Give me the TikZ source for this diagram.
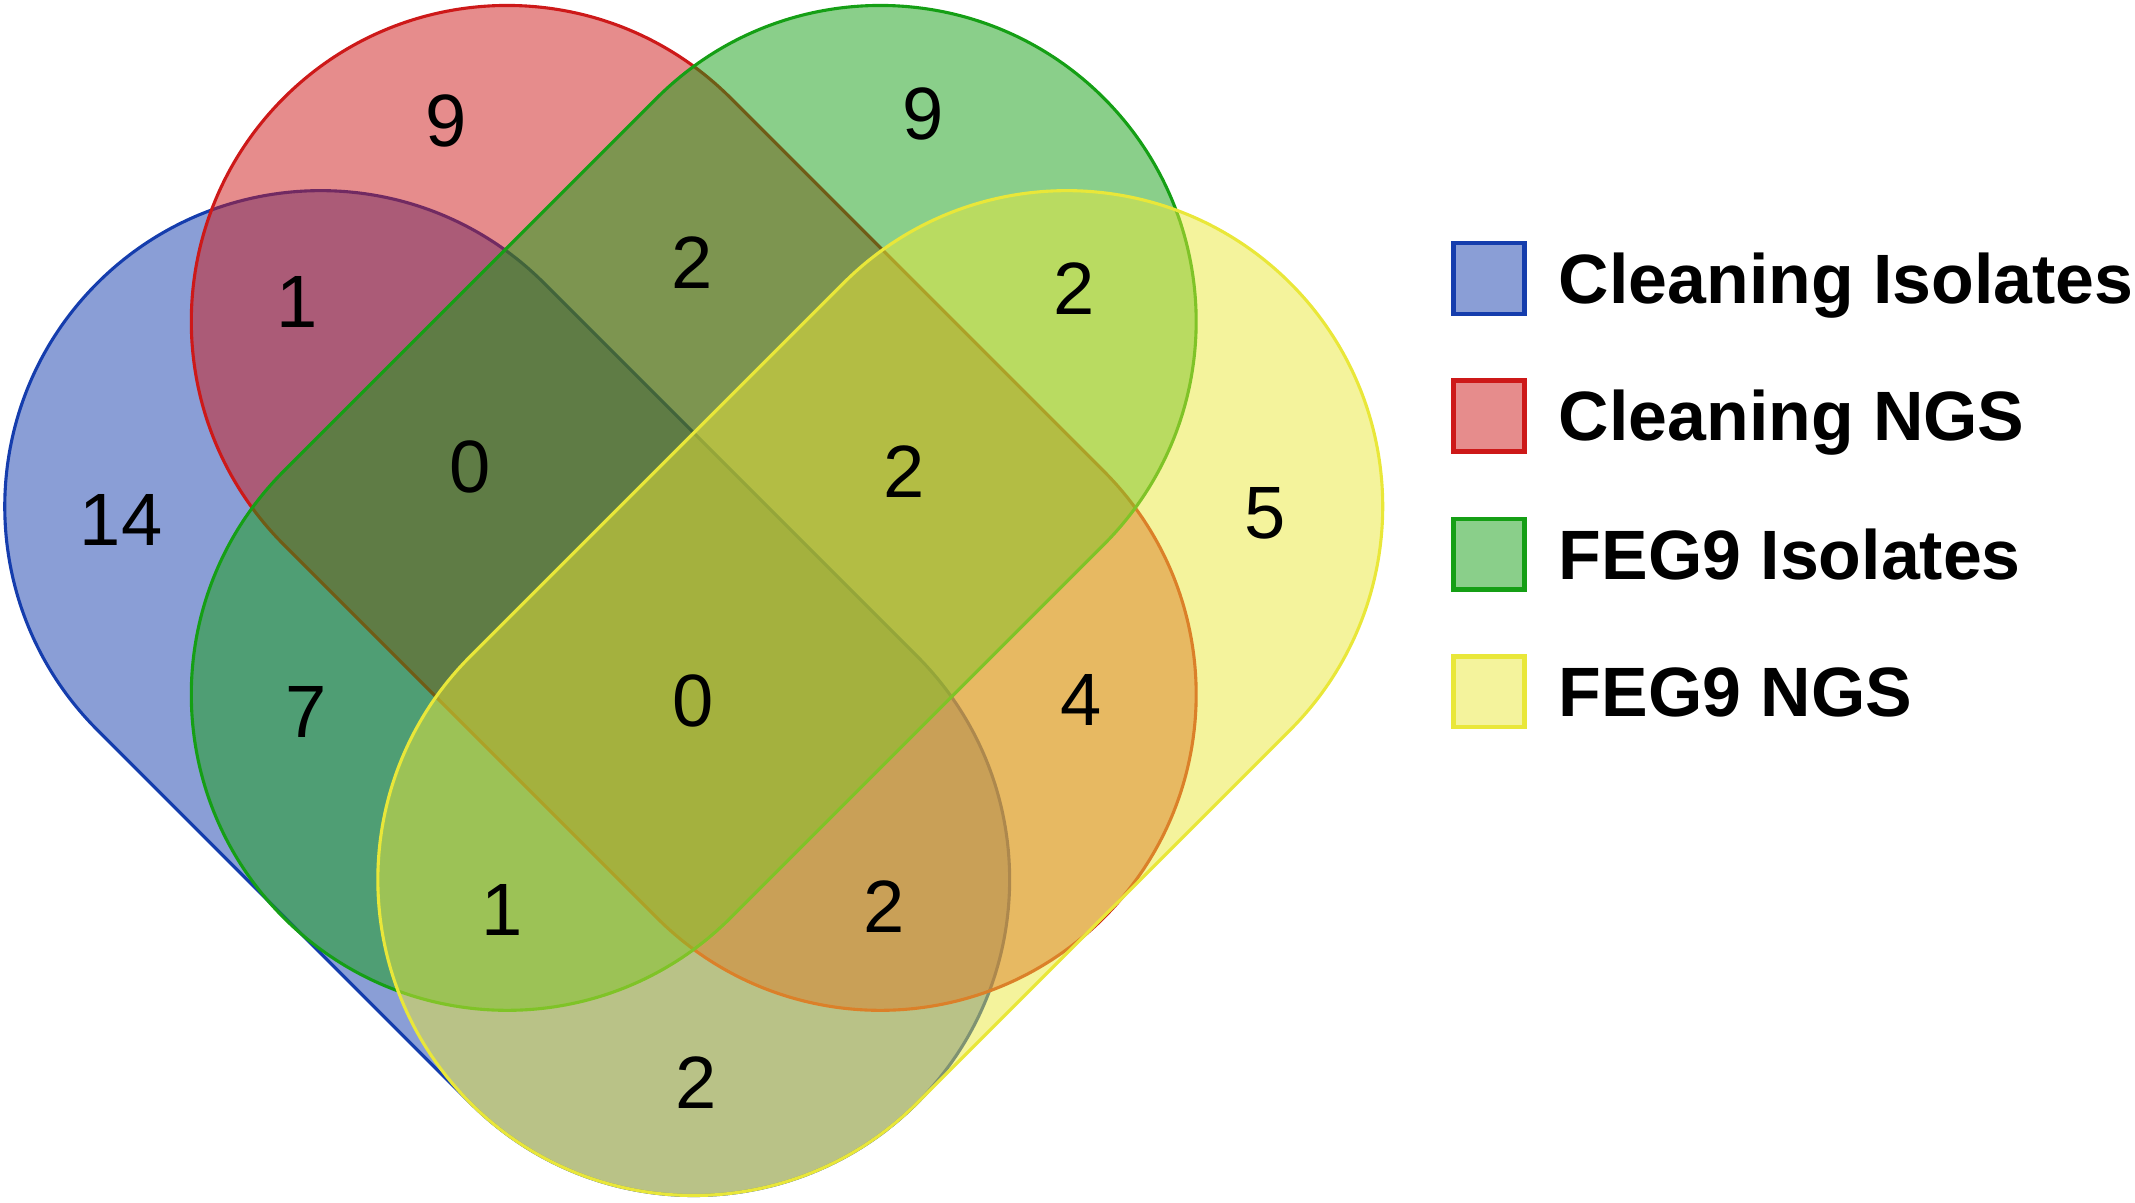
\documentclass[tikz,border=0pt]{standalone}
\usepackage{fontspec}
\setmainfont{Liberation Sans}
\usetikzlibrary{calc}
\definecolor{cblue}{RGB}{21,61,173}
\definecolor{cred}{RGB}{205,25,25}
\definecolor{cgreen}{RGB}{21,159,21}
\definecolor{cyellow}{RGB}{233,231,57}
\newcommand\vcapsule[4]{%
  \path[#1] ($(#2)+(#4+90:232)$) -- ($(#3)+(#4+90:232)$)
    arc[start angle=#4+90, end angle=#4-90, radius=232]
    -- ($(#2)+(#4-90:232)$)
    arc[start angle=#4-90, end angle=#4-270, radius=232] -- cycle;}
\tikzset{
  setshape/.style={draw=#1, fill=#1, fill opacity=0.5, line width=1.3pt},
  num/.style={font=\fontsize{31}{37}\selectfont, inner sep=0pt},
  legtext/.style={font=\fontsize{29.2}{34}\selectfont\bfseries, anchor=base west, inner sep=0pt},
  legbox/.style={draw=#1, fill=#1, fill opacity=0.5, line width=1.9pt, minimum size=1.04cm, inner sep=0pt}
}
\begin{document}
\begin{tikzpicture}[x=0.02cm, y=0.02cm]
\useasboundingbox (0,-883) rectangle (1568,0);
\coordinate (b1) at (235.5,-372); \coordinate (b2) at (509.5,-646);
\coordinate (r1) at (372.5,-236); \coordinate (r2) at (646.5,-510);
\coordinate (g1) at (646.5,-236); \coordinate (g2) at (372.5,-510);
\coordinate (y1) at (783.5,-372); \coordinate (y2) at (509.5,-646);
\vcapsule{setshape=cblue}{b1}{b2}{-45}
\vcapsule{setshape=cred}{r1}{r2}{-45}
\vcapsule{setshape=cgreen}{g1}{g2}{-135}
\vcapsule{setshape=cyellow}{y1}{y2}{-135}
% region counts
\node[num] (nR)    at (328,-89)  {9};
\node[num] (nG)    at (678,-84)  {9};
\node[num] (nBR)   at (218,-222) {1};
\node[num] (nRG)   at (508,-193) {2};
\node[num] (nGY)   at (789,-212) {2};
\node[num] (nB)    at (89,-382)  {14};
\node[num] (nBRG)  at (345,-343) {0};
\node[num] (nRGY)  at (664,-346) {2};
\node[num] (nY)    at (929,-377) {5};
\node[num] (nBG)   at (225,-523) {7};
\node[num] (nAll)  at (509,-515) {0};
\node[num] (nRY)   at (794,-514) {4};
\node[num] (nBGY)  at (369,-668) {1};
\node[num] (nBRY)  at (649,-666) {2};
\node[num] (nBY)   at (511,-795) {2};
% legend
\node[legbox=cblue]   (k1) at (1093.5,-204.5) {};
\node[legbox=cred]    (k2) at (1093.5,-305.5) {};
\node[legbox=cgreen]  (k3) at (1093.5,-407)   {};
\node[legbox=cyellow] (k4) at (1093.5,-508)   {};
\node[legtext] (t1) at (1144.5,-222.8) {Cleaning Isolates};
\node[legtext] (t2) at (1144.5,-323.8) {Cleaning NGS};
\node[legtext] (t3) at (1144.5,-425.3) {FEG9 Isolates};
\node[legtext] (t4) at (1144.5,-526.3) {FEG9 NGS};
\end{tikzpicture}
\end{document}
